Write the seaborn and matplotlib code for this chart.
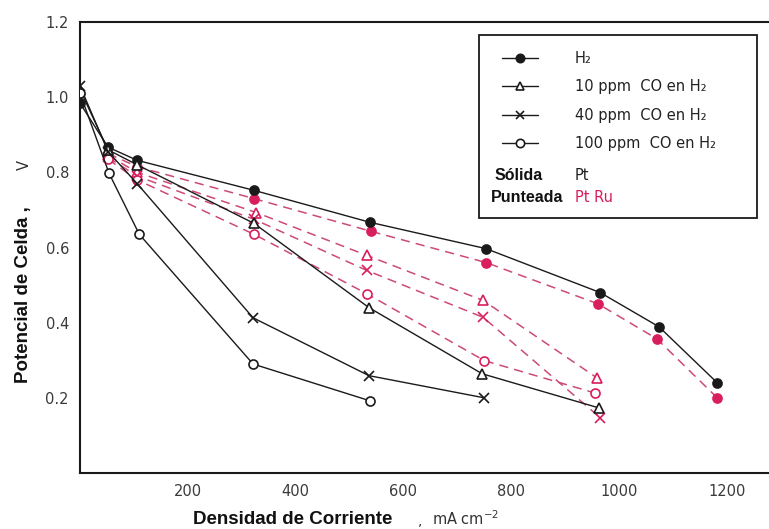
import matplotlib
matplotlib.use("Agg")
import matplotlib.pyplot as plt
from matplotlib.lines import Line2D
from matplotlib.patches import Rectangle
import seaborn as sns
import pandas as pd

sns.set_theme(style="white")
plt.rcParams['font.family'] = ['DejaVu Sans']

# ---- data ----
pt_h2_x = [0, 52, 106, 323, 538, 753, 965, 1074, 1182]
pt_h2_y = [0.984, 0.867, 0.832, 0.752, 0.667, 0.597, 0.48, 0.389, 0.24]
pt_10_x = [0, 52, 106, 323, 536, 746, 963]
pt_10_y = [1.02, 0.86, 0.82, 0.664, 0.44, 0.264, 0.173]
pt_40_x = [0, 52, 106, 321, 536, 750]
pt_40_y = [1.03, 0.855, 0.77, 0.413, 0.259, 0.2]
pt_100_x = [0, 54, 110, 321, 538]
pt_100_y = [1.01, 0.797, 0.635, 0.29, 0.192]

ptru_h2_x = [52, 106, 323, 540, 753, 961, 1070, 1182]
ptru_h2_y = [0.85, 0.815, 0.73, 0.643, 0.56, 0.45, 0.357, 0.2]
ptru_10_x = [52, 106, 327, 532, 748, 959]
ptru_10_y = [0.845, 0.80, 0.693, 0.579, 0.459, 0.253]
ptru_40_x = [52, 106, 323, 532, 748, 965]
ptru_40_y = [0.84, 0.79, 0.675, 0.539, 0.414, 0.147]
ptru_100_x = [52, 106, 323, 532, 750, 955]
ptru_100_y = [0.835, 0.78, 0.635, 0.477, 0.299, 0.213]

legend_labels = ["H₂", "10 ppm  CO en H₂", "40 ppm  CO en H₂", "100 ppm  CO en H₂"]
x_ticks = [200, 400, 600, 800, 1000, 1200]
y_ticks = [0.2, 0.4, 0.6, 0.8, 1.0, 1.2]

BLACK = "#1a1a1a"
RED = "#d81e5b"
REDLINE = "#cc4a78"

fig = plt.figure(figsize=(7.69, 5.29), dpi=100)
ax = fig.add_axes([80/769, 56/529, 689/769, 451/529])

markers = ["o", "^", "x", "o"]
pt_series = [(pt_h2_x, pt_h2_y), (pt_10_x, pt_10_y), (pt_40_x, pt_40_y), (pt_100_x, pt_100_y)]
ru_series = [(ptru_h2_x, ptru_h2_y), (ptru_10_x, ptru_10_y), (ptru_40_x, ptru_40_y), (ptru_100_x, ptru_100_y)]

for i, ((x, y), (xr, yr)) in enumerate(zip(pt_series, ru_series)):
    m = markers[i]
    filled = i == 0
    # PtRu dashed
    df = pd.DataFrame({"x": xr, "y": yr})
    sns.lineplot(data=df, x="x", y="y", ax=ax, color=REDLINE, linewidth=1.1,
                 linestyle=(0, (6, 4)), marker=m, markersize=6.5,
                 markerfacecolor=RED if filled else "white",
                 markeredgecolor=RED, markeredgewidth=1.2, zorder=2)
    # Pt solid
    df = pd.DataFrame({"x": x, "y": y})
    sns.lineplot(data=df, x="x", y="y", ax=ax, color=BLACK, linewidth=1.0,
                 marker=m, markersize=6.5,
                 markerfacecolor=BLACK if filled else "white",
                 markeredgecolor=BLACK, markeredgewidth=1.2, zorder=3)

ax.set_xlim(0, 1278)
ax.set_ylim(0, 1.2)
ax.set_xticks(x_ticks)
ax.set_xticklabels([str(v) for v in x_ticks])
ax.set_yticks(y_ticks)
ax.set_yticklabels([f"{v:.1f}" for v in y_ticks])
ax.tick_params(axis="both", labelsize=10.5, labelcolor="#3a3a3a", length=4,
               width=1.2, color=BLACK, direction="in")
ax.tick_params(axis="y", direction="out", pad=4)
ax.tick_params(axis="x", pad=8)
ax.set_xlabel("")
ax.set_ylabel("")
for s in ["left", "bottom", "top"]:
    ax.spines[s].set_color(BLACK)
    ax.spines[s].set_linewidth(1.5)
ax.spines["right"].set_visible(False)

# legend
handles = []
for i, m in enumerate(markers):
    handles.append(Line2D([], [], color=BLACK, linewidth=1.0, marker=m, markersize=6,
                          markerfacecolor=BLACK if i == 0 else "white",
                          markeredgecolor=BLACK, markeredgewidth=1.2))
leg = ax.legend(handles, legend_labels, loc="upper left",
                bbox_to_anchor=((496 - 80) / 689, (472 - 44) / 451),
                frameon=False, fontsize=10.5, handlelength=2.5, labelspacing=0.92,
                handletextpad=2.5, borderaxespad=0)
for t in leg.get_texts():
    t.set_color("#222222")

fig.patches.append(Rectangle((479/769, 1 - 218/529), (757-479)/769, (218-35)/529,
                             transform=fig.transFigure, fill=False,
                             edgecolor=BLACK, linewidth=1.3, zorder=5))
fig.text(495/769, 1 - 175/529, "Sólida", fontsize=11.5, fontweight="bold",
         family="Liberation Sans", va="center", color="#111111")
fig.text(491/769, 1 - 198/529, "Punteada", fontsize=11.5, fontweight="bold",
         family="Liberation Sans", va="center", color="#111111")
fig.text(575/769, 1 - 175/529, "Pt", fontsize=10.5, va="center", color="#222222")
fig.text(575/769, 1 - 198/529, "Pt Ru", fontsize=10.5, va="center", color=RED)

# axis labels
fig.text(193/769, 1 - 519/529, "Densidad de Corriente", fontsize=13.5, fontweight="bold",
         family="Liberation Sans", va="center", color="#111111")
fig.text(418/769, 1 - 521/529, ",", fontsize=10, va="center", color="#333333")
fig.text(432/769, 1 - 519/529, "mA cm$^{-2}$", fontsize=10.5, va="center", color="#333333")

fig.text(24/769, 1 - 295/529, "Potencial de Celda ,", fontsize=13.5, fontweight="bold",
         family="Liberation Sans", rotation=90, ha="center", va="center", color="#111111")
fig.text(24/769, 1 - 165/529, "V", fontsize=10.5, rotation=90, ha="center",
         va="center", color="#333333")

fig.savefig("out.png", dpi=100)
